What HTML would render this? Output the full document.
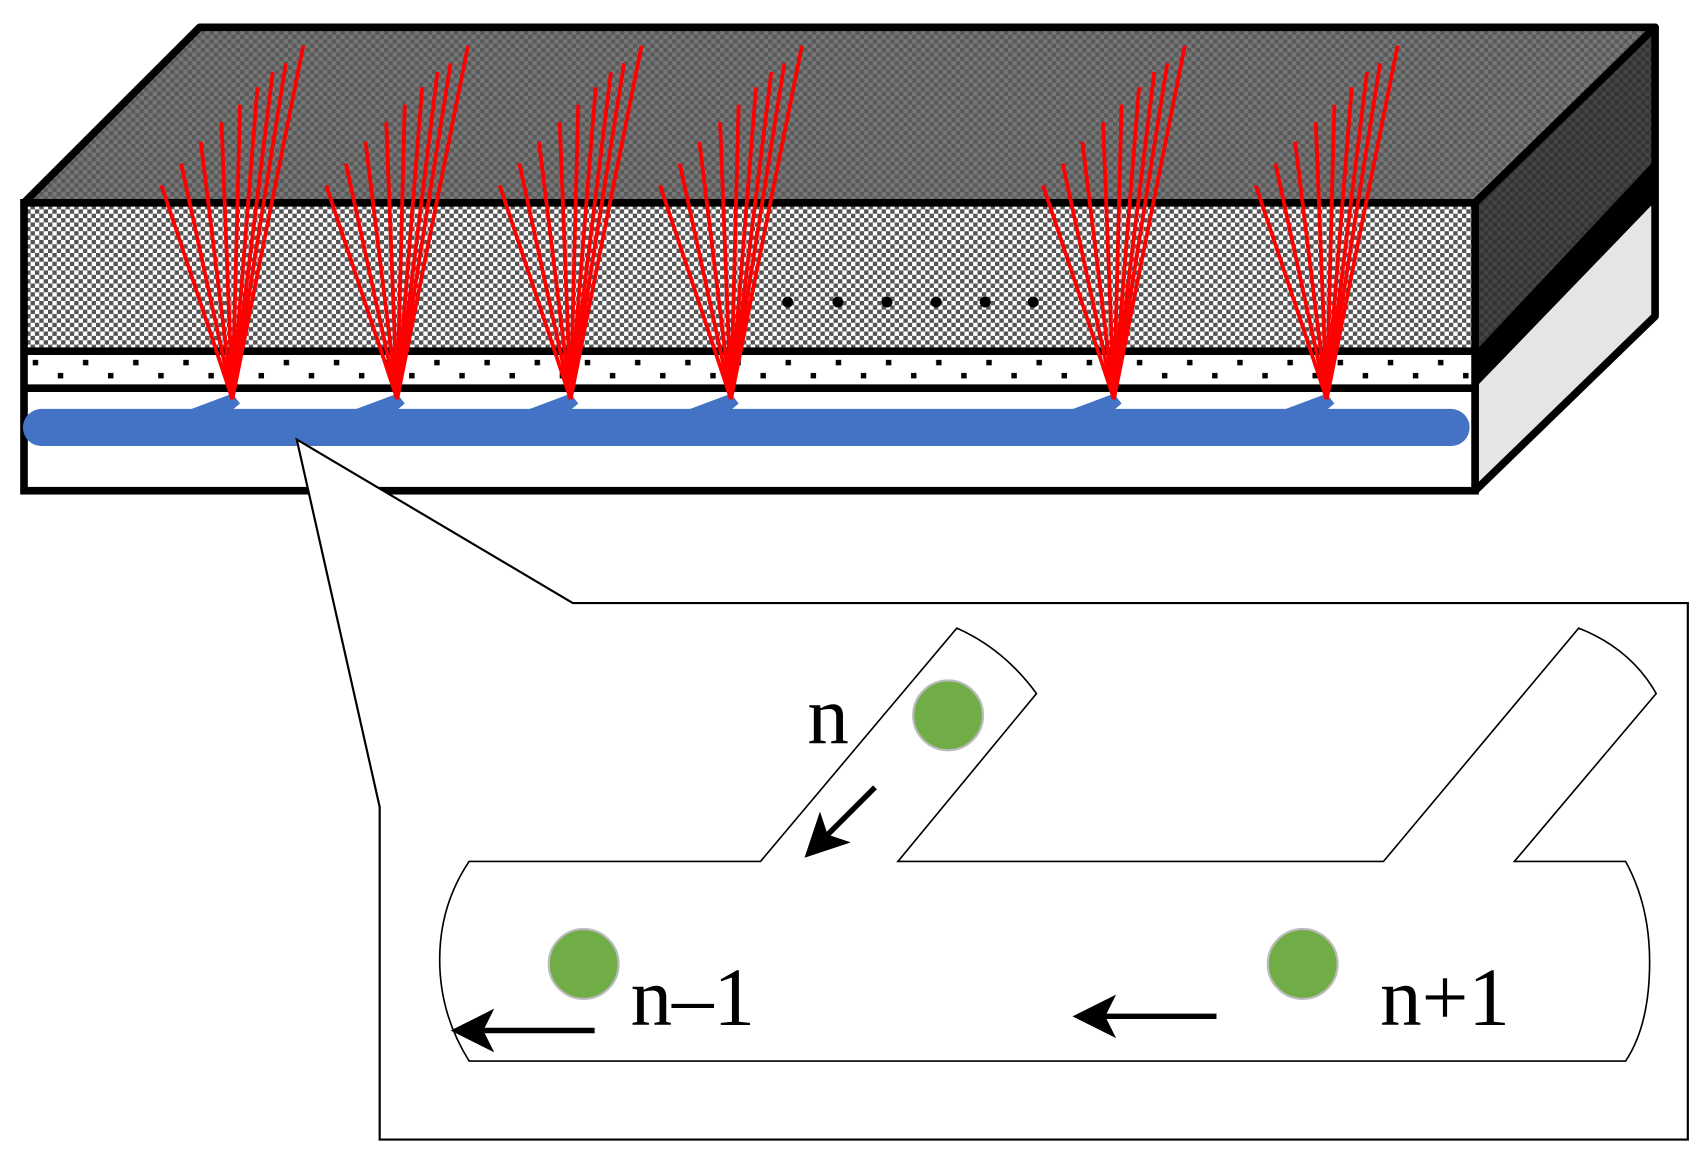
<!DOCTYPE html>
<html><head><style>html,body{margin:0;padding:0;background:#fff}svg{display:block}</style></head><body>
<svg width="1702" height="1157" viewBox="0 0 1560 1061" preserveAspectRatio="none" xmlns="http://www.w3.org/2000/svg">
<defs>
<pattern id="dk" width="8" height="8" patternUnits="userSpaceOnUse"><rect width="8" height="8" fill="#5a5a5a"/><rect width="4" height="4" fill="#777"/><rect x="4" y="4" width="4" height="4" fill="#777"/></pattern>
<pattern id="md" width="8" height="8" patternUnits="userSpaceOnUse"><rect width="8" height="8" fill="#fff"/><rect width="4" height="4" fill="#555"/><rect x="4" y="4" width="4" height="4" fill="#555"/></pattern>
<pattern id="sd" width="8" height="8" patternUnits="userSpaceOnUse"><rect width="8" height="8" fill="#333"/><rect width="4" height="4" fill="#444"/><rect x="4" y="4" width="4" height="4" fill="#444"/></pattern>
<pattern id="dots" x="22" y="322" width="46" height="34" patternUnits="userSpaceOnUse"><rect width="46" height="34" fill="#fff"/><rect x="8" y="8" width="5" height="5" fill="#000"/><rect x="31" y="20" width="5" height="5" fill="#000"/></pattern>
<marker id="ah" markerWidth="8" markerHeight="8" refX="5" refY="4" orient="auto" markerUnits="strokeWidth"><path d="M8,4 L0,0 L2,4 L0,8 Z" fill="#000"/></marker>
</defs>
<polygon points="22,186 183,25 1517,25 1352,186" fill="url(#dk)" stroke="#000" stroke-width="7" stroke-linejoin="round"/>
<polygon points="1352,186 1517,25 1517,146 1352,322" fill="url(#sd)"/>
<polygon points="1352,322 1517,146 1517,185 1352,356" fill="#000"/>
<polygon points="1352,356 1517,185 1517,290 1352,450" fill="#e5e5e5"/>
<polygon points="1352,186 1517,25 1517,290 1352,450" fill="none" stroke="#000" stroke-width="7" stroke-linejoin="round"/>
<rect x="22" y="186" width="1330" height="136" fill="url(#md)"/>
<rect x="22" y="322" width="1330" height="34" fill="url(#dots)"/>
<rect x="22" y="356" width="1330" height="94" fill="#fff"/>
<line x1="22" y1="322" x2="1352" y2="322" stroke="#000" stroke-width="7"/>
<line x1="22" y1="356" x2="1352" y2="356" stroke="#000" stroke-width="7"/>
<rect x="22" y="186" width="1330" height="264" fill="none" stroke="#000" stroke-width="7"/>
<line x1="38" y1="392" x2="1330" y2="392" stroke="#4472c4" stroke-width="34" stroke-linecap="round"/>
<g fill="#4472c4">
<polygon points="165,379 213,361 220,370 213,376"/><polygon points="316,379 364,361 371,370 364,376"/><polygon points="475,379 523,361 530,370 523,376"/><polygon points="622,379 670,361 677,370 670,376"/><polygon points="973,379 1021,361 1028,370 1021,376"/><polygon points="1168,379 1216,361 1223,370 1216,376"/>
</g>
<g stroke="#f00" stroke-width="3.5">
<g id="fan">
<line x1="213" y1="366" x2="148" y2="170"/><line x1="213" y1="366" x2="166" y2="150"/><line x1="213" y1="366" x2="184" y2="130"/><line x1="213" y1="366" x2="203" y2="112"/><line x1="213" y1="366" x2="220" y2="96"/><line x1="213" y1="366" x2="236" y2="80"/><line x1="213" y1="366" x2="250" y2="66"/><line x1="213" y1="366" x2="262" y2="58"/><line x1="213" y1="366" x2="278" y2="42"/>
</g>
<use href="#fan" x="151"/><use href="#fan" x="310"/><use href="#fan" x="457"/><use href="#fan" x="808"/><use href="#fan" x="1003"/>
</g>
<g fill="#000"><circle cx="722" cy="277" r="5"/><circle cx="768" cy="277" r="5"/><circle cx="813" cy="277" r="5"/><circle cx="858" cy="277" r="5"/><circle cx="903" cy="277" r="5"/><circle cx="947" cy="277" r="5"/></g>
<polygon points="272,403 348,740 348,1045 1547,1045 1547,553 525,553" fill="#fff" stroke="#000" stroke-width="2"/>
<path d="M430,790 L697,790 L877,576 Q920,595 950,636 L823,790 L1268,790 L1447,576 Q1495,595 1518,636 L1388,790 L1490,790 Q1512,830 1512,882 Q1512,940 1490,973 L430,973 Q403,930 403,880 Q403,830 430,790 Z" fill="#fff" stroke="#000" stroke-width="1.5"/>
<g fill="#70ad47" stroke="#bbb" stroke-width="2"><circle cx="869" cy="656" r="32"/><circle cx="535" cy="884" r="32"/><circle cx="1194" cy="884" r="32"/></g>
<g stroke="#000" stroke-width="5" fill="none">
<line x1="802" y1="722" x2="748" y2="776" marker-end="url(#ah)"/>
<line x1="545" y1="945" x2="428" y2="945" marker-end="url(#ah)"/>
<line x1="1115" y1="932" x2="998" y2="932" marker-end="url(#ah)"/>
</g>
<g font-family="Liberation Serif, serif" font-size="76" fill="#000">
<text x="740" y="682">n</text><text x="578" y="940">n–1</text><text x="1265" y="940">n+1</text>
</g>
</svg>
</body></html>
